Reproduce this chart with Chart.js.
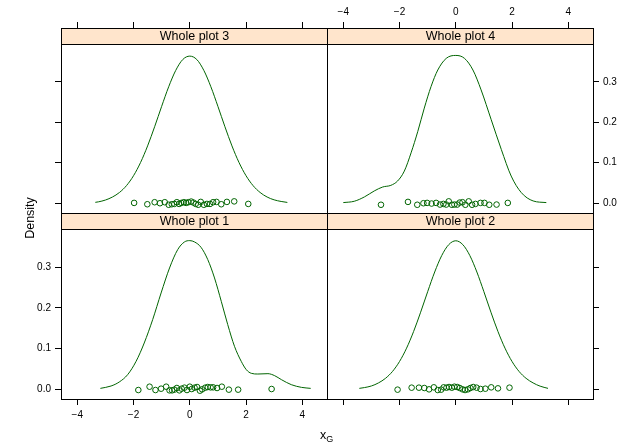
<!DOCTYPE html>
<html><head><meta charset="utf-8">
<script src="https://cdn.jsdelivr.net/npm/chart.js@4"></script>
<style>
html,body{margin:0;padding:0;background:#fff;}
#wrap{position:relative;width:619px;height:445px;overflow:hidden;background:#fff;}
canvas{position:absolute;left:0;top:0;}
.lab{position:absolute;font-family:"Liberation Sans",Arial,Helvetica,sans-serif;color:#000;white-space:nowrap;}
</style></head><body>
<div id="wrap">
<canvas id="c1" width="619" height="445"></canvas>
<canvas id="c2" width="619" height="445"></canvas>
<canvas id="c3" width="619" height="445"></canvas>
<canvas id="c4" width="619" height="445"></canvas>
<div class="lab" id="ylab" style="left:0px;top:211px;width:60px;height:14px;line-height:14px;font-size:12.5px;text-align:center;transform:rotate(-90deg);">Density</div>
<div class="lab" id="xlab" style="left:320px;top:429px;font-size:12.5px;line-height:13px;">x<span style="font-size:9px;position:relative;top:3px;">G</span></div>
</div>
<script>
// ---- data ----
const panelTitles = ["Whole plot 1", "Whole plot 2", "Whole plot 3", "Whole plot 4"];
const xTicks = [-4, -2, 0, 2, 4];
const yTicks = [0.0, 0.1, 0.2, 0.3];

const p1CurveX = [-3.18,-2.80,-2.51,-2.21,-1.91,-1.62,-1.32,-1.02,-0.72,-0.43,-0.19,0,0.17,0.40,0.64,0.88,1.12,1.35,1.59,1.83,2.01,2.19,2.42,2.78,3.02,3.26,3.61,3.97,4.30];
const p1CurveY = [0.0016,0.0074,0.0172,0.0353,0.0681,0.1133,0.1708,0.2365,0.2980,0.3432,0.3621,0.3654,0.3621,0.3489,0.3186,0.2734,0.2159,0.1585,0.1051,0.0681,0.0476,0.0386,0.0369,0.0378,0.0328,0.0230,0.0107,0.0041,0.0016];
const p1PointX = [-1.83,-1.43,-1.22,-1.02,-0.84,-0.72,-0.63,-0.55,-0.46,-0.37,-0.29,-0.19,-0.10,0.00,0.07,0.17,0.26,0.36,0.44,0.55,0.64,0.74,0.83,0.97,1.14,1.39,1.72,2.91];
const p1PointJ = [-0.0025,0.0057,-0.0025,0.0008,0.0057,-0.0033,-0.0033,-0.0016,0.0025,-0.0033,0.0008,0.0033,-0.0025,0.0057,0.0000,0.0033,0.0049,-0.0041,-0.0008,0.0033,0.0049,0.0041,0.0041,0.0025,0.0057,-0.0016,-0.0016,0.0000];

const p2CurveX = [-3.43,-3.25,-3.0,-2.75,-2.5,-2.25,-2.0,-1.75,-1.5,-1.25,-1.0,-0.75,-0.5,-0.25,0,0.25,0.5,0.75,1.0,1.25,1.5,1.75,2.0,2.25,2.5,2.75,3.0,3.28];
const p2CurveY = [0.0016,0.0035,0.0075,0.0150,0.0263,0.0433,0.0678,0.1006,0.1416,0.1891,0.2396,0.2881,0.3286,0.3555,0.365,0.3555,0.3286,0.2881,0.2396,0.1891,0.1416,0.1006,0.0678,0.0433,0.0263,0.0150,0.0070,0.0016];
const p2PointX = [-2.07,-1.57,-1.31,-1.12,-0.95,-0.78,-0.64,-0.52,-0.43,-0.33,-0.24,-0.14,-0.05,0.05,0.14,0.24,0.33,0.43,0.52,0.62,0.74,0.88,1.05,1.26,1.50,1.91];
const p2PointJ = [-0.0016,0.0033,0.0033,0.0025,-0.0008,0.0041,-0.0025,-0.0016,0.0041,0.0033,0.0049,0.0033,0.0057,0.0049,0.0025,-0.0008,-0.0025,-0.0008,0.0025,0.0049,0.0033,0.0000,0.0008,0.0041,0.0016,0.0033];

const p3CurveX = [-3.36,-3.25,-3.0,-2.75,-2.5,-2.25,-2.0,-1.75,-1.5,-1.25,-1.0,-0.75,-0.5,-0.25,0,0.25,0.5,0.75,1.0,1.25,1.5,1.75,2.0,2.25,2.5,2.75,3.0,3.25,3.47];
const p3CurveY = [0.0018,0.0030,0.0075,0.0150,0.0263,0.0433,0.0678,0.1006,0.1416,0.1891,0.2396,0.2881,0.3286,0.3555,0.364,0.3555,0.3286,0.2881,0.2396,0.1891,0.1416,0.1006,0.0678,0.0433,0.0263,0.0150,0.0080,0.0040,0.0016];
const p3PointX = [-1.98,-1.51,-1.25,-1.06,-0.89,-0.75,-0.64,-0.55,-0.46,-0.38,-0.30,-0.21,-0.13,-0.05,0.05,0.13,0.21,0.30,0.39,0.50,0.61,0.72,0.83,0.95,1.12,1.32,1.58,2.08];
const p3PointJ = [0.0004,-0.0029,0.0021,-0.0004,0.0021,-0.0042,-0.0029,-0.0021,0.0021,-0.0021,0.0004,0.0021,0.0004,0.0021,0.0037,0.0012,-0.0021,-0.0042,0.0029,-0.0042,-0.0021,-0.0021,0.0021,0.0029,-0.0029,0.0029,0.0042,-0.0021];

const p4CurveX = [-4.00,-3.61,-3.25,-2.90,-2.60,-2.31,-2.07,-1.83,-1.59,-1.35,-1.12,-0.88,-0.64,-0.34,0,0.31,0.61,0.90,1.26,1.62,1.97,2.33,2.75,3.22];
const p4CurveY = [0.0012,0.0045,0.0152,0.0300,0.0398,0.0439,0.0546,0.0792,0.1244,0.1777,0.2352,0.2886,0.3296,0.3584,0.3657,0.3584,0.3296,0.2804,0.2065,0.1326,0.0669,0.0259,0.0053,0.0012];
const p4PointX = [-2.66,-1.70,-1.37,-1.15,-1.02,-0.86,-0.70,-0.56,-0.44,-0.34,-0.25,-0.14,-0.05,0.05,0.14,0.24,0.34,0.46,0.58,0.70,0.88,1.02,1.19,1.45,1.85];
const p4PointJ = [-0.0042,0.0029,-0.0042,-0.0004,0.0004,-0.0012,0.0004,-0.0037,-0.0021,-0.0037,0.0042,-0.0042,-0.0037,-0.0037,0.0012,0.0021,-0.0042,0.0042,-0.0042,-0.0021,0.0004,0.0004,-0.0042,-0.0037,0.0004];

// ---- layout / style ----
const X_MIN = -4.58, X_MAX = 4.88;
const Y_MIN = -0.0246, Y_MAX = 0.394;
const CW = 619, CH = 445;
const STRIP = 16;
const AXH = 24;          // x axis band height
const AXL = 40;          // left y axis band width
const AXR = 26;          // right y axis band width
const TICK_LEN = 6;
const GREEN = '#006400';
const STRIP_BG = '#FFE5CC';
const FONT = '"Liberation Sans", Arial, Helvetica, sans-serif';
const TICK_FONT = {family: FONT, size: 10};
const STRIP_FONT_SIZE = 12.5;

const fmtX = v => (v < 0 ? '\u2212' + Math.abs(v) : String(v));
const fmtY = v => v.toFixed(1);

const decoPlugin = {
  id: 'deco',
  beforeDatasetsDraw(chart) {
    const {ctx, chartArea: a} = chart;
    const sb = Math.round(chart.scales.y.getPixelForValue(Y_MAX));
    ctx.save();
    ctx.fillStyle = STRIP_BG;
    ctx.fillRect(a.left, a.top, a.right - a.left, sb - a.top);
    ctx.restore();
  },
  afterDatasetsDraw(chart, args, opts) {
    const {ctx, chartArea: a} = chart;
    const sb = Math.round(chart.scales.y.getPixelForValue(Y_MAX));
    ctx.save();
    ctx.strokeStyle = '#000';
    ctx.lineWidth = 1;
    ctx.beginPath();
    ctx.moveTo(a.left, sb + 0.5); ctx.lineTo(a.right + 1, sb + 0.5);
    ctx.stroke();
    ctx.strokeRect(a.left + 0.5, a.top + 0.5, a.right - a.left, a.bottom - a.top);
    ctx.fillStyle = '#000';
    ctx.font = STRIP_FONT_SIZE + 'px ' + FONT;
    ctx.textAlign = 'center';
    ctx.textBaseline = 'middle';
    ctx.fillText(opts.title, (a.left + a.right) / 2 + 0.5, (a.top + sb) / 2 + 1);
    ctx.restore();
  }
};

function makePanel(id, rect, title, cx, cy, px, pj, xPos, xLab, yPos, yLab) {
  const plotH = rect.b - rect.t - STRIP;
  const yTop = Y_MAX + (Y_MAX - Y_MIN) * STRIP / plotH;
  const yw = yPos === 'left' ? AXL : AXR;
  const padding = {
    left: rect.l - (yPos === 'left' ? yw : 0),
    right: CW - rect.r - (yPos === 'right' ? yw : 0),
    top: rect.t - (xPos === 'top' ? AXH : 0),
    bottom: CH - rect.b - (xPos === 'bottom' ? AXH : 0)
  };
  const fixX = s => { s.height = AXH; s.paddingLeft = s.paddingRight = s.paddingTop = s.paddingBottom = 0; };
  const fixY = s => { s.width = yw; s.paddingLeft = s.paddingRight = s.paddingTop = s.paddingBottom = 0; };
  return new Chart(document.getElementById(id), {
    type: 'scatter',
    data: {
      datasets: [
        {
          data: cx.map((x, i) => ({x: x, y: cy[i]})),
          showLine: true,
          borderColor: GREEN,
          borderWidth: 1,
          pointRadius: 0,
          fill: false,
          cubicInterpolationMode: 'monotone'
        },
        {
          data: px.map((x, i) => ({x: x, y: pj[i]})),
          showLine: false,
          pointStyle: 'circle',
          pointRadius: 2.8,
          borderColor: GREEN,
          borderWidth: 1,
          backgroundColor: 'rgba(0,0,0,0)'
        }
      ]
    },
    options: {
      responsive: false,
      animation: false,
      devicePixelRatio: 1,
      layout: {padding: padding},
      plugins: {legend: {display: false}, tooltip: {enabled: false}, deco: {title: title}},
      scales: {
        x: {
          type: 'linear', position: xPos, min: X_MIN, max: X_MAX,
          afterBuildTicks: s => { s.ticks = xTicks.map(v => ({value: v})); },
          afterFit: fixX,
          grid: {drawOnChartArea: false, drawTicks: true, tickLength: TICK_LEN, color: '#000', lineWidth: 1},
          border: {display: false},
          ticks: {color: '#000', font: TICK_FONT, padding: 4, maxRotation: 0, autoSkip: false,
                  callback: v => (xLab ? fmtX(v) : '')}
        },
        y: {
          type: 'linear', position: yPos, min: Y_MIN, max: yTop,
          afterBuildTicks: s => { s.ticks = yTicks.map(v => ({value: v})); },
          afterFit: fixY,
          grid: {drawOnChartArea: false, drawTicks: true, tickLength: TICK_LEN, color: '#000', lineWidth: 1},
          border: {display: false},
          ticks: {color: '#000', font: TICK_FONT, padding: 4, autoSkip: false,
                  callback: v => (yLab ? fmtY(v) : '')}
        }
      }
    },
    plugins: [decoPlugin]
  });
}

const L = 61, M = 327, R = 593, T = 28, MY = 213, B = 399;
makePanel('c1', {l: L, r: M, t: MY, b: B}, panelTitles[0], p1CurveX, p1CurveY, p1PointX, p1PointJ, 'bottom', true, 'left', true);
makePanel('c2', {l: M, r: R, t: MY, b: B}, panelTitles[1], p2CurveX, p2CurveY, p2PointX, p2PointJ, 'bottom', false, 'right', false);
makePanel('c3', {l: L, r: M, t: T, b: MY}, panelTitles[2], p3CurveX, p3CurveY, p3PointX, p3PointJ, 'top', false, 'left', false);
makePanel('c4', {l: M, r: R, t: T, b: MY}, panelTitles[3], p4CurveX, p4CurveY, p4PointX, p4PointJ, 'top', true, 'right', true);
</script>
</body></html>
